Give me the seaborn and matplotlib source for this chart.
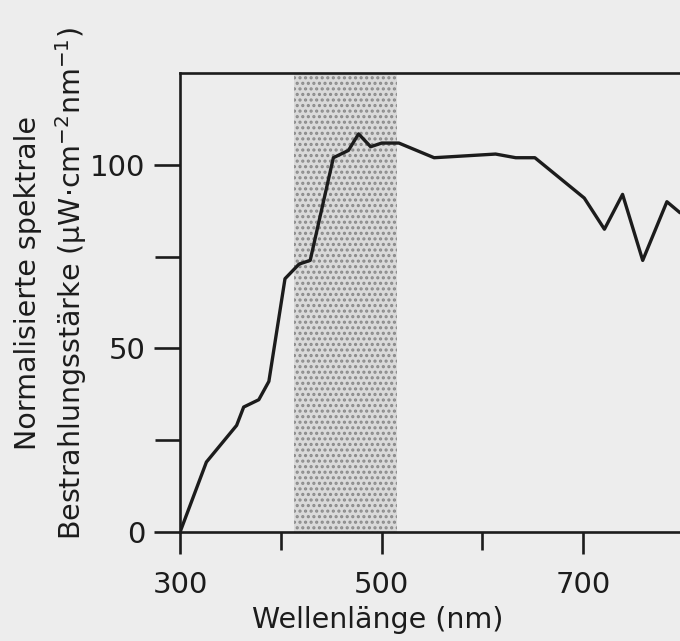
# Normalisierte spektrale Bestrahlungsstärke einer Lichtquelle (Nachbau der Abbildung)

import matplotlib
matplotlib.use("Agg")
import matplotlib.pyplot as plt
from matplotlib.ticker import FixedLocator
import seaborn as sns

# Daten
wellenlaenge = [300, 326, 356, 363, 378, 388, 404, 418, 429, 452, 467, 477, 489,
                500, 517, 552, 613, 633, 652, 701, 721, 739, 759, 783, 796]
bestrahlung = [0, 19, 29, 34, 36, 41, 69, 73, 74, 102, 104, 108.5, 105,
               106, 106, 102, 103, 102, 102, 91, 82.5, 92, 74, 90, 87]
band = (413, 515)          # schattierter Bereich (nm)
x_major = [300, 500, 700]
x_minor = [400, 600]
y_major = [0, 50, 100]
y_minor = [25, 75]

sns.set_theme(style="ticks")
plt.rcParams["font.family"] = ["DejaVu Sans"]
plt.rcParams["mathtext.default"] = "regular"
plt.rcParams["hatch.linewidth"] = 1.5
plt.rcParams["hatch.color"] = "#8a8a8a"

ink = "#1c1c1c"
bg = "#ededed"

fig = plt.figure(figsize=(6.8, 6.41), dpi=100, facecolor=bg)
ax = fig.add_axes([0.265, 0.1705, 0.735, 0.715])
ax.set_facecolor(bg)

# gerasterter Bereich
ax.axvspan(band[0], band[1], facecolor="#dadada", edgecolor="#8a8a8a",
           hatch="...", linewidth=0, zorder=0)

sns.lineplot(x=wellenlaenge, y=bestrahlung, color=ink, linewidth=2.4, ax=ax,
             zorder=3)

ax.set_xlim(300, 796)
ax.set_ylim(0, 125)

for side in ["left", "bottom", "top"]:
    ax.spines[side].set_color(ink)
    ax.spines[side].set_linewidth(1.9)
ax.spines["right"].set_visible(False)

ax.xaxis.set_major_locator(FixedLocator(x_major))
ax.xaxis.set_minor_locator(FixedLocator(x_minor))
ax.yaxis.set_major_locator(FixedLocator(y_major))
ax.yaxis.set_minor_locator(FixedLocator(y_minor))
ax.tick_params(axis="x", which="major", direction="out", length=16, width=1.9,
               pad=12, labelsize=21, colors=ink)
ax.tick_params(axis="x", which="minor", direction="out", length=13, width=1.9,
               colors=ink)
ax.tick_params(axis="y", which="major", direction="out", length=19, width=1.9,
               pad=6, labelsize=21, colors=ink)
ax.tick_params(axis="y", which="minor", direction="out", length=18, width=1.9,
               colors=ink)
ax.xaxis.set_ticks_position("bottom")
ax.yaxis.set_ticks_position("left")

# Achsentitel: x-Titel sitzt in der Vorlage links von der Achsenmitte
ax.set_xlabel("Wellenlänge (nm)", fontsize=20.5, color=ink, va="center")
ax.xaxis.set_label_coords((378 - 180.2) / 499.8, -(620 - 531.7) / 458.3)
ax.set_ylabel("")

fig.text(51.5 / 680, 1 - 283 / 641,
         "Normalisierte spektrale\nBestrahlungsstärke (µW·cm$^{-2}$nm$^{-1}$)",
         rotation=90, ha="center", va="center", multialignment="center",
         fontsize=20.5, color=ink, linespacing=1.4)

fig.savefig("out.png", dpi=100, facecolor=bg)
